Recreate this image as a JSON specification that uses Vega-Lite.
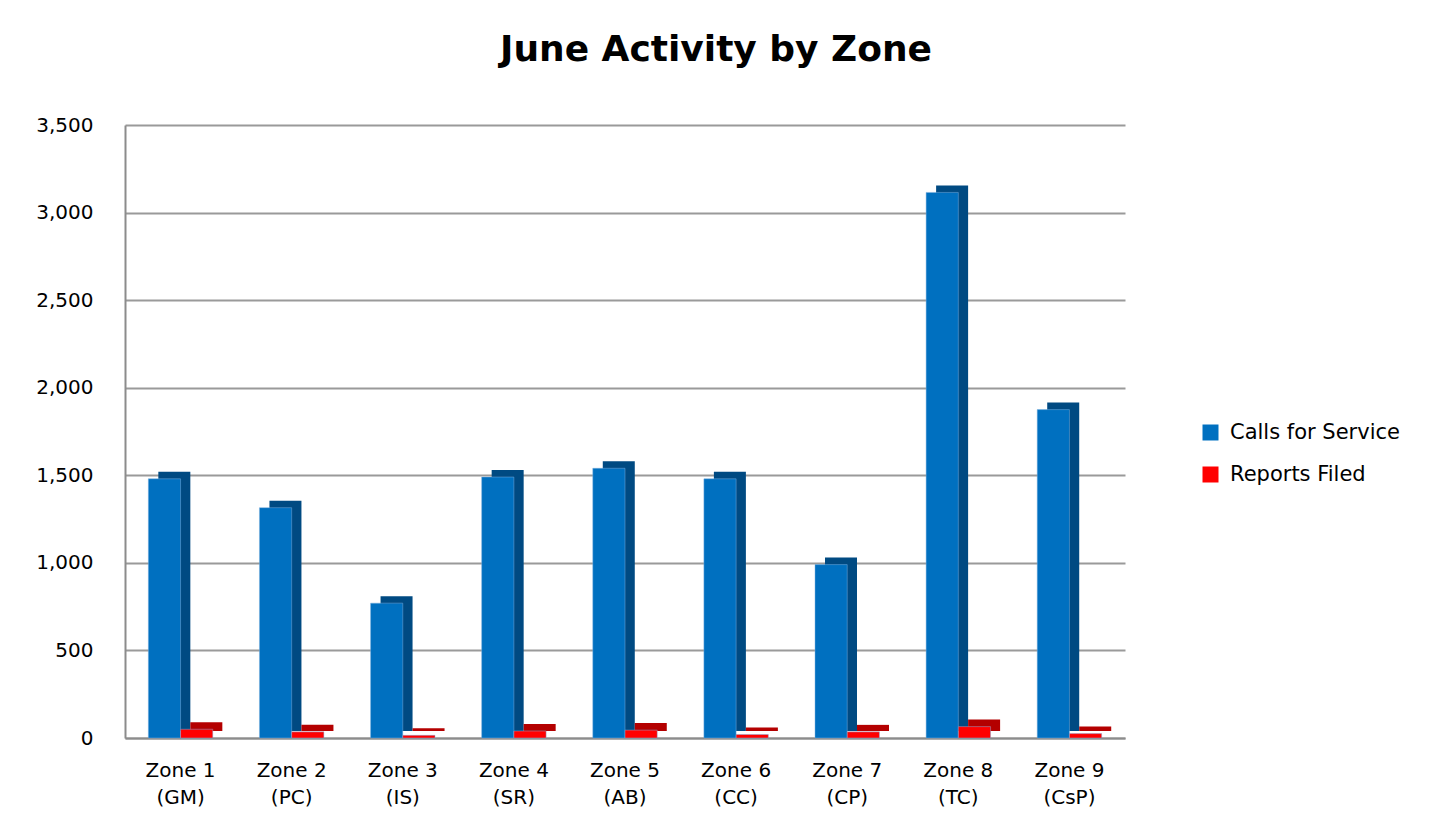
{
  "$schema": "https://vega.github.io/schema/vega-lite/v6.json",
  "autosize": "none",
  "width": 1000,
  "height": 613,
  "padding": {"left": 125, "top": 125, "right": 312, "bottom": 92},
  "background": "white",
  "title": {
    "text": "June Activity by Zone",
    "font": "DejaVu Sans",
    "fontSize": 36,
    "fontWeight": "bold",
    "color": "#000000",
    "anchor": "middle",
    "dx": 91,
    "offset": 46
  },
  "data": {
    "values": [
      {"zone": "Zone 1 (GM)", "series": "Calls for Service", "value": 1480},
      {"zone": "Zone 1 (GM)", "series": "Reports Filed", "value": 50},
      {"zone": "Zone 2 (PC)", "series": "Calls for Service", "value": 1315},
      {"zone": "Zone 2 (PC)", "series": "Reports Filed", "value": 35},
      {"zone": "Zone 3 (IS)", "series": "Calls for Service", "value": 770},
      {"zone": "Zone 3 (IS)", "series": "Reports Filed", "value": 15},
      {"zone": "Zone 4 (SR)", "series": "Calls for Service", "value": 1490},
      {"zone": "Zone 4 (SR)", "series": "Reports Filed", "value": 40},
      {"zone": "Zone 5 (AB)", "series": "Calls for Service", "value": 1540},
      {"zone": "Zone 5 (AB)", "series": "Reports Filed", "value": 45},
      {"zone": "Zone 6 (CC)", "series": "Calls for Service", "value": 1480},
      {"zone": "Zone 6 (CC)", "series": "Reports Filed", "value": 20},
      {"zone": "Zone 7 (CP)", "series": "Calls for Service", "value": 990},
      {"zone": "Zone 7 (CP)", "series": "Reports Filed", "value": 35},
      {"zone": "Zone 8 (TC)", "series": "Calls for Service", "value": 3115},
      {"zone": "Zone 8 (TC)", "series": "Reports Filed", "value": 65},
      {"zone": "Zone 9 (CsP)", "series": "Calls for Service", "value": 1875},
      {"zone": "Zone 9 (CsP)", "series": "Reports Filed", "value": 25}
    ]
  },
  "encoding": {
    "x": {
      "field": "zone",
      "type": "nominal",
      "sort": null,
      "scale": {"paddingInner": 0.42, "paddingOuter": 0.21},
      "axis": {
        "title": null,
        "labelAngle": 0,
        "labelExpr": "[slice(datum.label, 0, 6), slice(datum.label, 7)]",
        "labelFont": "DejaVu Sans",
        "labelFontSize": 20,
        "labelColor": "#000000",
        "labelLineHeight": 27,
        "labelPadding": 22,
        "labelBaseline": "top",
        "ticks": false,
        "domainColor": "#8c8c8c",
        "domainWidth": 2,
        "grid": false
      }
    },
    "y": {
      "field": "value",
      "type": "quantitative",
      "scale": {"domain": [0, 3500], "nice": false},
      "axis": {
        "title": null,
        "values": [0, 500, 1000, 1500, 2000, 2500, 3000, 3500],
        "format": ",.0f",
        "labelFont": "DejaVu Sans",
        "labelFontSize": 20,
        "labelColor": "#000000",
        "labelPadding": 32,
        "ticks": false,
        "domainColor": "#8c8c8c",
        "domainWidth": 2,
        "grid": true,
        "gridColor": "#9a9a9a",
        "gridWidth": 2
      }
    }
  },
  "layer": [
    {
      "mark": {"type": "bar", "yOffset": -7},
      "encoding": {
        "xOffset": {"field": "series", "type": "nominal", "scale": {"paddingInner": 0, "range": [10, 74]}},
        "color": {
          "condition": {"test": "datum.series == 'Calls for Service'", "value": "#004a82"},
          "value": "#b40000"
        }
      }
    },
    {
      "mark": {"type": "bar", "stroke": "#7fb2e0", "strokeWidth": 0.8, "strokeOpacity": 0.6},
      "encoding": {
        "xOffset": {"field": "series", "type": "nominal", "scale": {"paddingInner": 0}},
        "color": {
          "field": "series",
          "type": "nominal",
          "scale": {"domain": ["Calls for Service", "Reports Filed"], "range": ["#0070c0", "#ff0000"]},
          "legend": {
            "title": null,
            "orient": "none",
            "legendX": 1075,
            "legendY": 297,
            "symbolType": "square",
            "symbolSize": 256,
            "symbolStrokeWidth": 0,
            "labelFont": "DejaVu Sans",
            "labelFontSize": 21,
            "labelColor": "#000000",
            "labelOffset": 9,
            "labelLimit": 300,
            "rowPadding": 20
          }
        }
      }
    }
  ],
  "resolve": {"scale": {"xOffset": "independent"}},
  "config": {
    "view": {"stroke": null}
  }
}
